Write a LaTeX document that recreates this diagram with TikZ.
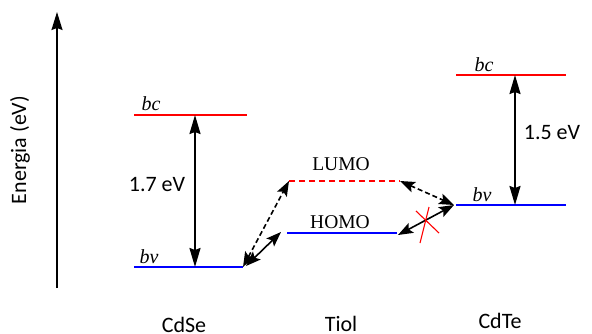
\documentclass[tikz,border=0pt]{standalone}
\usepackage{fontspec}
\setmainfont{Liberation Serif}
\setsansfont{Carlito}
\usetikzlibrary{arrows.meta,positioning}

\begin{document}
\begin{tikzpicture}[x=1pt, y=-1pt,
    level/.style={line width=1.4pt},
    cband/.style={level, draw=red},
    vband/.style={level, draw=blue},
    gap/.style={{Stealth[length=19pt,width=11pt,inset=2pt]}-{Stealth[length=19pt,width=11pt,inset=2pt]}, line width=2pt},
    hop/.style={{Stealth[length=15pt,width=11pt,inset=3pt]}-{Stealth[length=15pt,width=11pt,inset=3pt]}, line width=1.6pt},
    hopdash/.style={hop, dash pattern=on 5pt off 3pt},
    bandlbl/.style={font=\fontsize{20}{23}\selectfont\itshape, inner sep=1pt},
    orblbl/.style={font=\fontsize{19.5}{23}\selectfont, inner sep=1pt},
    sanslbl/.style={font=\fontsize{22}{25}\selectfont\sffamily, inner sep=1pt},
]
\useasboundingbox (0,0) rectangle (592,333);

% Energy axis
\coordinate (axbot) at (57,288);
\coordinate (axtop) at (57,12);
\draw[-{Stealth[length=18pt,width=11pt,inset=2pt]}, line width=1.4pt] (axbot) -- (axtop);
\node[sanslbl, rotate=90] (energy) at (20,150) {Energia (eV)};

% CdSe levels
\coordinate (sebcl) at (134,115);
\coordinate (sebcr) at (247,115);
\coordinate (sebvl) at (134,267);
\coordinate (sebvr) at (243,267);
\coordinate (sebcm) at (195,115);
\coordinate (sebvm) at (195,267);
\draw[cband] (sebcl) -- (sebcr);
\draw[vband] (sebvl) -- (sebvr);
\node[bandlbl] (sebc) at (151,104) {bc};
\node[bandlbl] (sebv) at (149,257) {bv};
\draw[gap] (sebcm) -- (sebvm);
\node[sanslbl] (segap) at (157,185) {1.7 eV};
\node[sanslbl] (cdse) at (184,325) {CdSe};

% Tiol levels
\coordinate (lumol) at (289,181);
\coordinate (lumor) at (400,181);
\coordinate (homol) at (287,233);
\coordinate (homor) at (397,233);
\draw[cband, dash pattern=on 6pt off 4pt] (lumol) -- (lumor);
\draw[vband] (homol) -- (homor);
\node[orblbl] (lumo) at (341,164) {LUMO};
\node[orblbl] (homo) at (340,222) {HOMO};
\node[sanslbl] (tiol) at (341,324) {Tiol};

% CdTe levels
\coordinate (tebcl) at (456,75);
\coordinate (tebcr) at (566,75);
\coordinate (tebvl) at (456,205);
\coordinate (tebvr) at (566,205);
\coordinate (tebcm) at (515,75);
\coordinate (tebvm) at (515,205);
\draw[cband] (tebcl) -- (tebcr);
\draw[vband] (tebvl) -- (tebvr);
\node[bandlbl] (tebc) at (484,65) {bc};
\node[bandlbl] (tebv) at (482,195) {bv};
\draw[gap] (tebcm) -- (tebvm);
\node[sanslbl] (tegap) at (552,133) {1.5 eV};
\node[sanslbl] (cdte) at (500,321) {CdTe};

% Transfers
\coordinate (hopa) at (246,266);
\coordinate (hopb) at (281,232);
\coordinate (hopc) at (398,235);
\coordinate (hopd) at (454,205);
\draw[hopdash] (sebvr) -- (lumol);
\draw[hop] (hopa) -- (hopb);
\draw[hopdash] (lumor) -- (hopd);
\draw[hop] (hopc) -- (hopd);

% blocked path
\coordinate (xa) at (416,211);
\coordinate (xb) at (439,233);
\coordinate (xc) at (429,207);
\coordinate (xd) at (420,243);
\draw[red, line width=1.1pt] (xa) -- (xb);
\draw[red, line width=1.1pt] (xc) -- (xd);

\end{tikzpicture}
\end{document}
